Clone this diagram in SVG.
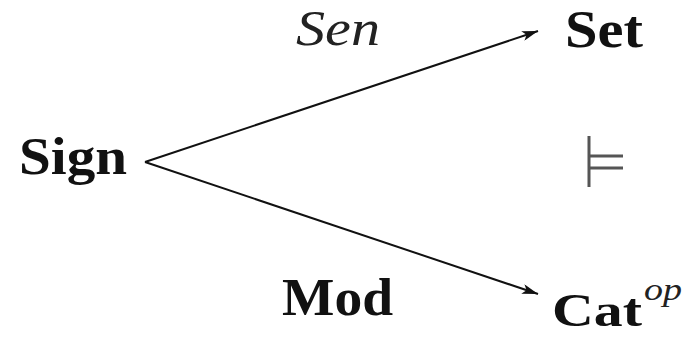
<svg xmlns="http://www.w3.org/2000/svg" width="685" height="337" viewBox="0 0 685 337">
<style>
.b{font-family:"Liberation Serif","DejaVu Serif",serif;font-weight:bold;fill:#111}
.i{font-family:"Liberation Serif","DejaVu Serif",serif;font-style:italic;fill:#222}
.c{stroke:#111;stroke-width:2;fill:none}
</style>
<defs>
<marker id="ah" markerWidth="18" markerHeight="10" refX="16" refY="5" orient="auto" markerUnits="userSpaceOnUse">
<path d="M0,0 L16,5 L0,10 L4,5 Z" fill="#111"/>
</marker>
</defs>
<rect width="685" height="337" fill="#fff"/>
<g id="connectors">
<path class="c" d="M145,162 L538,31" marker-end="url(#ah)"/>
<path class="c" d="M145,162 L538,294" marker-end="url(#ah)"/>
</g>
<g id="sign"><text class="b" x="19" y="174" font-size="52" textLength="108" lengthAdjust="spacingAndGlyphs">Sign</text></g>
<g id="set"><text class="b" x="565" y="47" font-size="52" textLength="78" lengthAdjust="spacingAndGlyphs">Set</text></g>
<g id="cat"><text class="b" x="552" y="326" font-size="46" textLength="90" lengthAdjust="spacingAndGlyphs">Cat</text><text class="i" x="644" y="300" font-size="32" textLength="38" lengthAdjust="spacingAndGlyphs">op</text></g>
<g id="sen"><text class="i" x="296" y="45" font-size="50" textLength="84" lengthAdjust="spacingAndGlyphs">Sen</text></g>
<g id="mod"><text class="b" x="282" y="315" font-size="52" textLength="111" lengthAdjust="spacingAndGlyphs">Mod</text></g>
<g id="models"><path d="M589,136 V187 M589,156 H623 M589,168 H623" stroke="#555" stroke-width="3" fill="none"/></g>
</svg>
